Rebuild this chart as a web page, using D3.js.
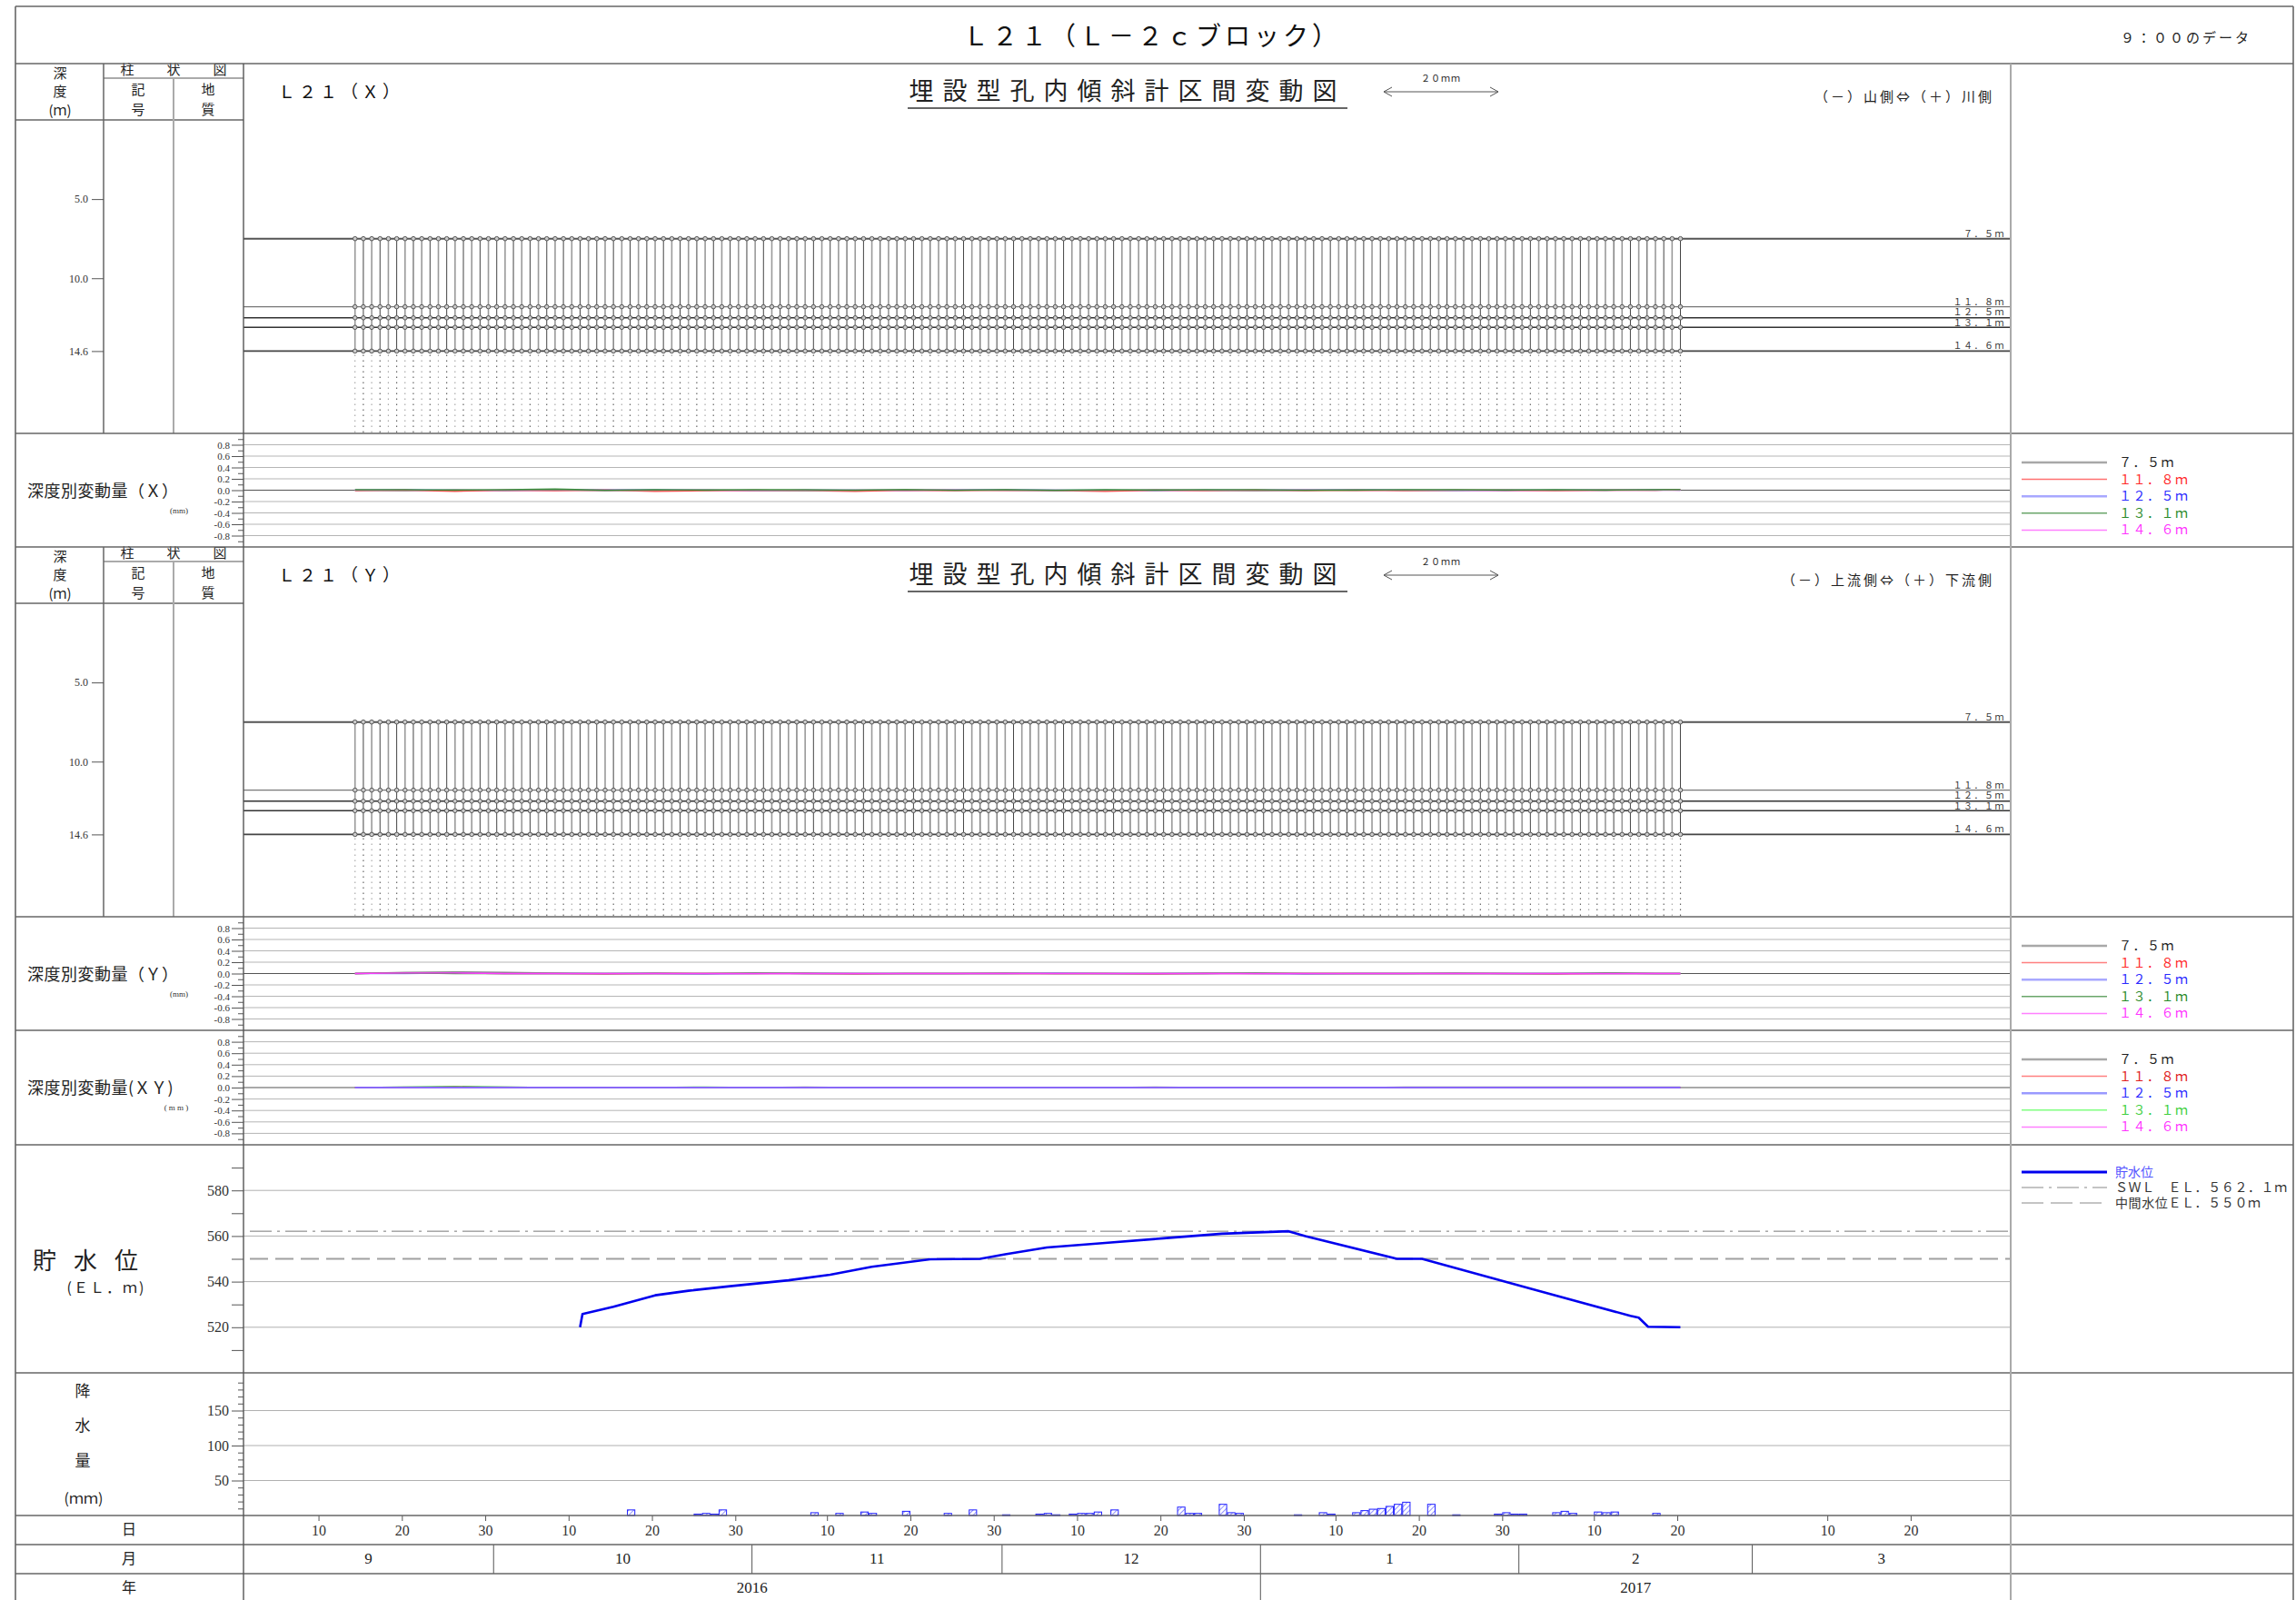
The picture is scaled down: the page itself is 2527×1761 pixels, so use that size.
<!DOCTYPE html>
<html>
<head>
<meta charset="utf-8">
<script src="https://cdn.jsdelivr.net/npm/d3@7"></script>
<style>
  body { margin: 0; background: #fff; }
  svg { display: block; }
</style>
</head>
<body>
<svg id="chart" width="2527" height="1761"></svg>
<script>
// ---- data -------------------------------------------------------------
const depthLevels = [7.5, 11.8, 12.5, 13.1, 14.6];
const depthLabels = ["７．５ｍ", "１１．８ｍ", "１２．５ｍ", "１３．１ｍ", "１４．６ｍ"];
const depthTicks = [5.0, 10.0, 14.6];
const depthBottom = 19.8;

// daily 9:00 readings shown as profiles
const firstReading = "2016-09-14";
const lastReading = "2017-02-20";
// cumulative displacement of each depth (mm) on the latest reading
const profileX = [0.01, 0.00, 0.01, 0.00, 0.00];
const profileY = [0.00, 0.01, 0.00, 0.00, 0.01];

// sampled interval displacement (mm)
const sampleDates = ["2016-09-14","2016-09-20","2016-09-26","2016-10-02","2016-10-08","2016-10-14","2016-10-20",
  "2016-10-26","2016-11-01","2016-11-07","2016-11-13","2016-11-19","2016-11-25","2016-12-01","2016-12-07",
  "2016-12-13","2016-12-19","2016-12-25","2016-12-31","2017-01-06","2017-01-12","2017-01-18","2017-01-24",
  "2017-01-30","2017-02-05","2017-02-11","2017-02-17","2017-02-20"];

const varX_75  = [0.00,-0.01,0.01,0.00,0.01,-0.01,0.00,0.01,0.00,-0.01,0.00,0.01,0.00,0.00,-0.01,0.00,0.01,0.00,-0.01,0.00,0.01,0.00,0.00,0.01,0.00,0.01,0.00,0.01];
const varX_118 = [-0.01,0.00,-0.02,0.00,-0.01,0.00,-0.02,-0.01,0.00,-0.01,-0.02,0.00,-0.01,0.00,-0.01,-0.02,0.00,-0.01,0.00,-0.01,0.00,-0.01,0.00,0.00,-0.01,0.00,0.00,0.01];
const varX_125 = [0.00,0.01,0.00,-0.01,0.00,0.00,0.01,0.00,-0.01,0.00,0.00,-0.01,0.00,0.01,0.00,0.00,-0.01,0.00,0.00,0.00,0.01,0.00,-0.01,0.00,0.00,0.00,0.01,0.00];
const varX_131 = [0.01,0.01,0.00,0.01,0.02,0.00,0.01,0.00,0.01,0.01,0.00,0.01,0.00,0.01,0.00,0.01,0.00,0.01,0.01,0.00,0.00,0.01,0.01,0.00,0.01,0.00,0.01,0.01];
const varX_146 = [0.00,0.00,-0.01,0.00,0.00,0.01,0.00,0.00,-0.01,0.00,0.00,0.00,0.01,0.00,0.00,-0.01,0.00,0.00,0.00,0.01,0.00,0.00,0.00,-0.01,0.00,0.00,0.00,0.00];

const varY_75  = [0.00,0.02,0.03,0.02,0.01,0.00,0.01,0.00,0.00,0.01,0.00,0.00,0.00,0.01,0.00,0.00,0.00,0.01,0.00,0.00,0.00,0.00,0.01,0.00,0.00,0.00,0.00,0.00];
const varY_118 = [0.00,0.01,0.01,0.00,0.00,-0.01,0.00,0.00,0.00,0.00,-0.01,0.00,0.00,0.00,0.00,0.00,-0.01,0.00,0.00,0.00,0.00,0.00,0.00,0.00,-0.01,0.00,0.00,0.00];
const varY_125 = [0.00,0.00,0.01,0.00,0.00,0.00,0.00,-0.01,0.00,0.00,0.00,0.00,0.00,0.00,0.01,0.00,0.00,0.00,0.00,-0.01,0.00,0.00,0.00,0.00,0.00,0.00,0.00,0.00];
const varY_131 = [0.00,0.01,0.00,0.00,0.00,0.00,0.00,0.00,0.01,0.00,0.00,0.00,0.00,0.00,0.00,0.00,0.00,0.00,0.01,0.00,0.00,0.00,0.00,0.00,0.00,0.01,0.00,0.00];
const varY_146 = [0.00,0.01,0.01,0.00,0.00,0.00,0.00,0.00,0.00,0.00,0.00,0.00,0.00,0.00,0.00,0.00,0.00,0.00,0.00,0.00,0.00,0.00,0.00,0.00,0.00,0.00,0.00,0.00];

const varXY_75  = [0.00,0.01,0.01,0.01,0.00,0.00,0.00,0.00,0.00,0.01,0.00,0.00,0.00,0.00,0.00,0.00,0.01,0.00,0.00,0.00,0.00,0.01,0.01,0.01,0.01,0.01,0.01,0.01];
const varXY_118 = [0.00,0.00,0.01,0.00,0.00,0.00,0.00,0.00,0.00,0.00,0.00,0.00,0.00,0.00,0.00,0.00,0.00,0.00,0.00,0.00,0.00,0.00,0.00,0.00,0.00,0.00,0.00,0.00];
const varXY_125 = [0.00,0.00,0.00,0.00,0.00,0.00,0.00,0.00,0.00,0.00,0.00,0.00,0.00,0.00,0.00,0.00,0.00,0.00,0.00,0.00,0.00,0.00,0.00,0.00,0.00,0.00,0.00,0.00];
const varXY_131 = [0.00,0.01,0.02,0.01,0.00,0.00,0.00,0.01,0.00,0.00,0.00,0.00,0.00,0.00,0.00,0.00,0.00,0.00,0.00,0.00,0.00,0.00,0.00,0.00,0.00,0.00,0.00,0.00];
const varXY_146 = [0.00,0.00,0.00,0.00,0.00,0.00,0.00,0.00,0.00,0.00,0.00,0.00,0.00,0.00,0.00,0.00,0.00,0.00,0.00,0.00,0.00,0.00,0.00,0.00,0.00,0.00,0.00,0.00];

const varTicks = [-0.8,-0.6,-0.4,-0.2,0,0.2,0.4,0.6,0.8];
const varMinorTicks = [-0.9,-0.7,-0.5,-0.3,-0.1,0.1,0.3,0.5,0.7,0.9];

// reservoir water level (EL. m)
const levelTimes = ["2016-10-11T09:00","2016-10-11T16:00","2016-10-15T09:00","2016-10-20T09:00","2016-10-24T09:00",
  "2016-10-29T09:00","2016-11-05T09:00","2016-11-10T09:00","2016-11-15T09:00","2016-11-22T09:00","2016-11-28T09:00",
  "2016-12-01T09:00","2016-12-06T09:00","2016-12-13T09:00","2016-12-20T09:00","2016-12-27T09:00","2017-01-04T09:00",
  "2017-01-06T09:00","2017-01-17T09:00","2017-01-20T09:00","2017-02-02T09:00","2017-02-14T09:00","2017-02-15T09:00",
  "2017-02-16T12:00","2017-02-20T09:00"];
const levelValues = [520.0,525.8,529.0,534.0,536.0,538.0,540.6,543.0,546.5,549.8,550.0,552.0,555.0,557.0,559.0,561.0,
  562.1,560.0,550.0,550.0,537.0,525.0,524.2,520.2,520.0];
const swlLevel = 562.1;
const midLevel = 550.0;
const levelTicks = [520, 540, 560, 580];
const levelMinorTicks = [510, 530, 550, 570, 590];

// daily rainfall (mm)
const rainDates = ["2016-10-17","2016-10-25","2016-10-26","2016-10-27","2016-10-28","2016-11-08","2016-11-11",
  "2016-11-14","2016-11-15","2016-11-19","2016-11-24","2016-11-27","2016-12-01","2016-12-05","2016-12-06",
  "2016-12-07","2016-12-09","2016-12-10","2016-12-11","2016-12-12","2016-12-14","2016-12-22","2016-12-23",
  "2016-12-24","2016-12-27","2016-12-28","2016-12-29","2017-01-05","2017-01-08","2017-01-09","2017-01-12",
  "2017-01-13","2017-01-14","2017-01-15","2017-01-16","2017-01-17","2017-01-18","2017-01-21","2017-01-24",
  "2017-01-29","2017-01-30","2017-01-31","2017-02-01","2017-02-05","2017-02-06","2017-02-07","2017-02-10",
  "2017-02-11","2017-02-12","2017-02-17"];
const rainMm = [8,2,3,2,8,4,3,5,3,6,3,8,1,2,3,1,2,3,3,5,8,12,3,3,16,4,3,1,4,2,4,7,9,10,13,16,19,16,1,2,4,2,2,4,6,3,5,4,5,3];
const rainTicks = [50, 100, 150];
const rainMinorTicks = [10,20,30,40,60,70,80,90,110,120,130,140,160,170,180,190];

// calendar labels
const dayTicks = ["2016-09-10","2016-09-20","2016-09-30","2016-10-10","2016-10-20","2016-10-30","2016-11-10",
  "2016-11-20","2016-11-30","2016-12-10","2016-12-20","2016-12-30","2017-01-10","2017-01-20","2017-01-30",
  "2017-02-10","2017-02-20","2017-03-10","2017-03-20"];
const monthStarts = ["2016-09-01","2016-10-01","2016-11-01","2016-12-01","2017-01-01","2017-02-01","2017-03-01","2017-04-01"];
const monthLabels = ["9","10","11","12","1","2","3"];
const yearStarts = ["2016-09-01","2017-01-01","2017-04-01"];
const yearLabels = ["2016","2017"];

const seriesNames = ["７．５ｍ", "１１．８ｍ", "１２．５ｍ", "１３．１ｍ", "１４．６ｍ"];

// ---- layout ------------------------------------------------------------
const FL = 17, FR = 2524, PL = 268, PR = 2213;
const SERIF = "'Liberation Serif','DejaVu Serif',serif";
const JP = "'Noto Sans CJK JP','Noto Sans CJK SC',sans-serif";
const LINE = "#666";

const parse = d3.timeParse("%Y-%m-%d");
const parseT = d3.timeParse("%Y-%m-%dT%H:%M");
const x = d3.scaleTime().domain([parse("2016-09-01"), parse("2017-04-01")]).range([PL, PR]);

const svg = d3.select("#chart");

function hline(y, x1, x2, color, w, dash) {
  const l = svg.append("line").attr("x1", x1).attr("x2", x2).attr("y1", y).attr("y2", y)
    .attr("stroke", color).attr("stroke-width", w);
  if (dash) l.attr("stroke-dasharray", dash);
  return l;
}
function vline(xp, y1, y2, color, w, dash) {
  const l = svg.append("line").attr("x1", xp).attr("x2", xp).attr("y1", y1).attr("y2", y2)
    .attr("stroke", color).attr("stroke-width", w);
  if (dash) l.attr("stroke-dasharray", dash);
  return l;
}
function text(str, xp, yp, opts = {}) {
  return svg.append("text").attr("x", xp).attr("y", yp)
    .attr("font-family", opts.font || JP)
    .attr("font-size", opts.size || 14)
    .attr("fill", opts.fill || "#222")
    .attr("text-anchor", opts.anchor || "start")
    .attr("letter-spacing", opts.ls || 0)
    .attr("dominant-baseline", opts.base || "auto")
    .text(str);
}
function styleAxis(g, size) {
  g.select(".domain").remove();
  g.selectAll(".tick line").attr("stroke", "#555").attr("stroke-width", 1);
  g.selectAll(".tick text").attr("font-family", SERIF).attr("font-size", size).attr("fill", "#333");
}

// ---- title band ----------------------------------------------------------
text("Ｌ２１（Ｌ－２ｃブロック）", 1268, 50, {size: 28, anchor: "middle", ls: 4, fill: "#111"});
text("９：００のデータ", 2334, 47, {size: 15, ls: 3, fill: "#222"});

// ---- profile panels (X and Y) ---------------------------------------------
const readingDates = d3.timeDay.range(parse(firstReading), d3.timeDay.offset(parse(lastReading), 1))
  .map(d => d3.timeHour.offset(d, 9));
const mmScale = d3.scaleLinear().domain([0, 20]).range([0, 126]);

function profilePanel(top, label, sideNote, offsets) {
  const yD = d3.scaleLinear().domain([0, depthBottom]).range([top + 62, top + 407]);

  // left header
  text("深", 66, top + 12, {size: 15, anchor: "middle", base: "middle"});
  text("度", 66, top + 32, {size: 15, anchor: "middle", base: "middle"});
  text("(ｍ)", 66, top + 53, {size: 15, anchor: "middle", base: "middle"});
  text("柱", 140, top + 8, {size: 15, anchor: "middle", base: "middle"});
  text("状", 191, top + 8, {size: 15, anchor: "middle", base: "middle"});
  text("図", 242, top + 8, {size: 15, anchor: "middle", base: "middle"});
  text("記", 152, top + 30, {size: 15, anchor: "middle", base: "middle"});
  text("号", 152, top + 52, {size: 15, anchor: "middle", base: "middle"});
  text("地", 229, top + 30, {size: 15, anchor: "middle", base: "middle"});
  text("質", 229, top + 52, {size: 15, anchor: "middle", base: "middle"});
  hline(top + 16, 114, PL, "#aaa", 2);
  hline(top + 62, FL, PL, LINE, 1.5);
  vline(114, top, top + 407, LINE, 1.5);
  vline(191, top + 16, top + 407, "#aaa", 2);

  const ax = svg.append("g").attr("transform", `translate(114,0)`)
    .call(d3.axisLeft(yD).tickValues(depthTicks).tickSize(13).tickPadding(4).tickFormat(d3.format(".1f")));
  styleAxis(ax, 12);

  // titles
  text(label, 306, top + 38, {size: 19, ls: 4, fill: "#111"});
  text("埋設型孔内傾斜計区間変動図", 1241, top + 40, {size: 27, anchor: "middle", ls: 10, fill: "#222"});
  hline(top + 49, 999, 1483, "#666", 2);
  // 20 mm scale arrow
  const ay = top + 31, ax1 = 1523, ax2 = ax1 + mmScale(20);
  hline(ay, ax1, ax2, "#555", 1);
  svg.append("path").attr("d", `M${ax1 + 9},${ay - 5}L${ax1},${ay}L${ax1 + 9},${ay + 5}M${ax2 - 9},${ay - 5}L${ax2},${ay}L${ax2 - 9},${ay + 5}`)
    .attr("fill", "none").attr("stroke", "#555").attr("stroke-width", 1);
  text("２０ｍｍ", (ax1 + ax2) / 2, top + 20, {size: 10, anchor: "middle", ls: 1});
  text(sideNote, PR - 18, top + 42, {size: 15, anchor: "end", ls: 3});

  // depth reference lines; labels sit just above their line
  const depthStyle = [["#555", 2], ["#777", 1.2], ["#333", 1.6], ["#333", 1.6], ["#444", 1.6]];
  const labelLift = [2, 2, 3, 1, 2];
  depthLevels.forEach((d, i) => {
    hline(yD(d), PL, PR, depthStyle[i][0], depthStyle[i][1]);
    text(depthLabels[i], PR - 6, yD(d) - labelLift[i], {size: 10, anchor: "end", ls: 1.5, fill: "#333"});
  });

  // daily profiles
  const g = svg.append("g");
  readingDates.forEach((d, i) => {
    const x0 = x(d);
    const dark = i % 2 === 1;
    const col = dark ? "#444" : "#9a9a9a";
    const pts = depthLevels.map((dep, k) => [x0 + mmScale(offsets[k]), yD(dep)]);
    g.append("path").attr("d", d3.line()(pts)).attr("fill", "none")
      .attr("stroke", col).attr("stroke-width", dark ? 1 : 1.6);
    g.append("line").attr("x1", pts[4][0]).attr("x2", pts[4][0])
      .attr("y1", yD(14.6) + 4).attr("y2", yD(depthBottom) - 1)
      .attr("stroke", dark ? "#666" : "#aaa").attr("stroke-width", 1.2).attr("stroke-dasharray", "1.5,4.5");
    pts.forEach(p => g.append("circle").attr("cx", p[0]).attr("cy", p[1]).attr("r", 2.3)
      .attr("fill", "#ccc").attr("stroke", "#555").attr("stroke-width", 1));
  });
}

profilePanel(70, "Ｌ２１（Ｘ）", "（－）山側⇔（＋）川側", profileX);
profilePanel(602, "Ｌ２１（Ｙ）", "（－）上流側⇔（＋）下流側", profileY);

// ---- variation panels -----------------------------------------------------
const sDates = sampleDates.map(parse).map(d => d3.timeHour.offset(d, 9));
const lineColors = {
  X:  ["#8a8a8a", "#ff5050", "#8c8cff", "#3c8c3c", "#ff5cff"],
  Y:  ["#8a8a8a", "#ff5050", "#8c8cff", "#3c8c3c", "#ff3cff"],
  XY: ["#8a8a8a", "#e03030", "#6a6aff", "#40e040", "#ff5cff"]
};
const legendLine = {
  X:  ["#a8a8a8", "#ff7070", "#a8a8ff", "#6aa66a", "#ff80ff"],
  Y:  ["#a8a8a8", "#ff8080", "#a8a8ff", "#6aa66a", "#ff80ff"],
  XY: ["#a8a8a8", "#ff8080", "#9a9aff", "#80ff80", "#ff80ff"]
};
const legendText = {
  X:  ["#222", "#ff2a2a", "#2a2aff", "#2a8a2a", "#ff33ff"],
  Y:  ["#222", "#ff2a2a", "#2a2aff", "#2a8a2a", "#ff33ff"],
  XY: ["#222", "#e02020", "#2a2aff", "#40d040", "#ff33ff"]
};
// stacking order of the five depth traces in each panel (last drawn on top)
const drawOrder = { X: [4, 2, 1, 0, 3], Y: [0, 1, 2, 3, 4], XY: [3, 1, 0, 4, 2] };

function variationPanel(top, bottom, key, label, series, unitPos) {
  const yV = d3.scaleLinear().domain([-1, 1]).range([bottom, top]);
  varTicks.forEach(v => hline(yV(v), PL, PR, v === 0 ? "#555" : "#b5b5b5", 1));
  const a1 = svg.append("g").attr("transform", `translate(${PL},0)`)
    .call(d3.axisLeft(yV).tickValues(varTicks).tickSize(13).tickPadding(2).tickFormat(d => d.toFixed(1)));
  styleAxis(a1, 11);
  const a2 = svg.append("g").attr("transform", `translate(${PL},0)`)
    .call(d3.axisLeft(yV).tickValues(varMinorTicks).tickSize(6).tickFormat(""));
  styleAxis(a2, 11);

  text(label, 30, (top + bottom) / 2 + 7, {size: 18, ls: 0.5, fill: "#222"});
  text(unitPos[2], unitPos[0], unitPos[1], {size: 9, anchor: "middle", font: SERIF, fill: "#333"});

  const ln = d3.line().x((d, i) => x(sDates[i])).y(d => yV(d));
  drawOrder[key].forEach(k => {
    svg.append("path").attr("d", ln(series[k])).attr("fill", "none")
      .attr("stroke", lineColors[key][k]).attr("stroke-width", 1.4);
  });

  // legend
  series.forEach((s, k) => {
    const ly = top + 32 + k * 18.6;
    hline(ly, 2225, 2319, legendLine[key][k], (k === 0 || k === 2) ? 2.5 : 1.5);
    text(seriesNames[k], 2332, ly + 5, {size: 14, ls: 1.5, font: JP, fill: legendText[key][k]});
  });
}

variationPanel(477, 602, "X", "深度別変動量（Ｘ）", [varX_75, varX_118, varX_125, varX_131, varX_146], [197, 565, "(mm)"]);
variationPanel(1009, 1134, "Y", "深度別変動量（Ｙ）", [varY_75, varY_118, varY_125, varY_131, varY_146], [197, 1097, "(mm)"]);
variationPanel(1134, 1260, "XY", "深度別変動量(ＸＹ)", [varXY_75, varXY_118, varXY_125, varXY_131, varXY_146], [194, 1222, "( m m )"]);

// ---- reservoir level -------------------------------------------------------
const yW = d3.scaleLinear().domain([500, 600]).range([1511, 1260]);
levelTicks.forEach(v => hline(yW(v), PL, PR, "#b0b0b0", 1));
const wa = svg.append("g").attr("transform", `translate(${PL},0)`)
  .call(d3.axisLeft(yW).tickValues(levelTicks).tickSize(13).tickPadding(3).tickFormat(d3.format("d")));
styleAxis(wa, 16);
const wb = svg.append("g").attr("transform", `translate(${PL},0)`)
  .call(d3.axisLeft(yW).tickValues(levelMinorTicks).tickSize(13).tickFormat(""));
styleAxis(wb, 16);
hline(yW(swlLevel), 275, PR, "#777", 1, "24,6,3,6");
hline(yW(midLevel), 275, PR, "#a0a0a0", 2, "20,8");
svg.append("path")
  .attr("d", d3.line().x((d, i) => x(parseT(levelTimes[i]))).y(d => yW(d))(levelValues))
  .attr("fill", "none").attr("stroke", "#0000ee").attr("stroke-width", 2.6).attr("stroke-linejoin", "round");

text("貯", 36, 1397, {size: 26});
text("水", 81, 1397, {size: 26});
text("位", 126, 1397, {size: 26});
text("(ＥＬ．ｍ)", 117, 1423, {size: 16, anchor: "middle", ls: 2});

hline(1290, 2225, 2319, "#0000ee", 3);
text("貯水位", 2328, 1295, {size: 14, fill: "#5050ff"});
hline(1307, 2225, 2319, "#888", 1, "24,6,3,6");
text("ＳＷＬ　ＥＬ．５６２．１ｍ", 2328, 1312, {size: 14, ls: 0.6, fill: "#333"});
hline(1324, 2225, 2319, "#888", 1, "24,8");
text("中間水位ＥＬ．５５０ｍ", 2328, 1329, {size: 14, ls: 0.6, fill: "#333"});

// ---- rainfall ---------------------------------------------------------------
const yR = d3.scaleLinear().domain([0, 200]).range([1668, 1514]);
rainTicks.forEach(v => hline(yR(v), PL, PR, "#b0b0b0", 1));
const ra = svg.append("g").attr("transform", `translate(${PL},0)`)
  .call(d3.axisLeft(yR).tickValues(rainTicks).tickSize(13).tickPadding(3).tickFormat(d3.format("d")));
styleAxis(ra, 16);
const rb = svg.append("g").attr("transform", `translate(${PL},0)`)
  .call(d3.axisLeft(yR).tickValues(rainMinorTicks).tickSize(6).tickFormat(""));
styleAxis(rb, 16);

const defs = svg.append("defs");
const pat = defs.append("pattern").attr("id", "hatch").attr("patternUnits", "userSpaceOnUse")
  .attr("width", 4).attr("height", 4).attr("patternTransform", "rotate(45)");
pat.append("line").attr("x1", 0).attr("y1", 0).attr("x2", 0).attr("y2", 4)
  .attr("stroke", "#2020ff").attr("stroke-width", 1);

svg.append("g").selectAll("rect").data(rainMm).join("rect")
  .attr("x", (d, i) => x(parse(rainDates[i])) + 0.5)
  .attr("width", (d, i) => x(d3.timeDay.offset(parse(rainDates[i]), 1)) - x(parse(rainDates[i])) - 1)
  .attr("y", d => yR(d))
  .attr("height", d => yR(0) - yR(d))
  .attr("fill", "url(#hatch)").attr("stroke", "#2020ff").attr("stroke-width", 1);

text("降", 91, 1532, {size: 17, anchor: "middle", base: "middle"});
text("水", 91, 1570, {size: 17, anchor: "middle", base: "middle"});
text("量", 91, 1609, {size: 17, anchor: "middle", base: "middle"});
text("(ｍｍ)", 92, 1651, {size: 16, anchor: "middle", base: "middle"});

// ---- calendar axis -----------------------------------------------------------
const da = svg.append("g").attr("transform", "translate(0,1668)")
  .call(d3.axisBottom(x).tickValues(dayTicks.map(parse)).tickSize(6).tickPadding(5).tickFormat(d3.timeFormat("%-d")));
styleAxis(da, 16);

const mStarts = monthStarts.map(parse);
monthLabels.forEach((m, i) => {
  text(m, (x(mStarts[i]) + x(mStarts[i + 1])) / 2, 1717, {size: 17, anchor: "middle", base: "middle", font: SERIF});
  if (i > 0) vline(x(mStarts[i]), 1700, 1732, "#555", 1);
});
const yStarts = yearStarts.map(parse);
yearLabels.forEach((yl, i) => {
  text(yl, (x(yStarts[i]) + x(yStarts[i + 1])) / 2, 1749, {size: 17, anchor: "middle", base: "middle", font: SERIF});
  if (i > 0) vline(x(yStarts[i]), 1732, 1761, "#555", 1);
});
text("日", 142, 1685, {size: 16, anchor: "middle", base: "middle"});
text("月", 142, 1717, {size: 16, anchor: "middle", base: "middle"});
text("年", 142, 1749, {size: 16, anchor: "middle", base: "middle"});

// ---- frame --------------------------------------------------------------------
[7, 70, 477, 602, 1009, 1134, 1260, 1511, 1668, 1700, 1732].forEach(yy => hline(yy, FL, FR, LINE, 1.6));
vline(FL, 7, 1761, LINE, 1.6);
vline(FR, 7, 1761, LINE, 1.6);
vline(PL, 70, 1761, "#555", 1.4);
vline(PR, 70, 1761, "#aaa", 2);
</script>
</body>
</html>
